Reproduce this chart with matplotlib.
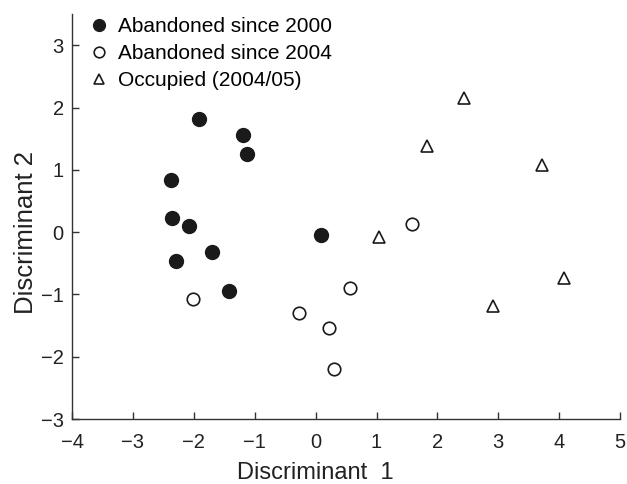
import matplotlib
matplotlib.use("Agg")
import matplotlib.pyplot as plt

plt.rcParams["font.family"] = ["Liberation Sans", "DejaVu Sans"]

# Discriminant scores
ab2000_x = [-1.91, -1.20, -1.13, -2.37, -2.36, -2.08, -2.29, -1.71, -1.42, 0.08]
ab2000_y = [1.81, 1.56, 1.26, 0.83, 0.23, 0.10, -0.47, -0.32, -0.95, -0.05]

ab2004_x = [-2.02, -0.27, 0.56, 0.22, 0.30, 1.59]
ab2004_y = [-1.07, -1.29, -0.90, -1.53, -2.19, 0.13]

occ_x = [2.43, 1.83, 3.71, 1.04, 2.91, 4.08]
occ_y = [2.16, 1.38, 1.08, -0.08, -1.18, -0.73]

xticks = list(range(-4, 6))
yticks = list(range(-3, 4))

fig = plt.figure(figsize=(6.27, 4.84), dpi=100)
ax = fig.add_axes([0.115, 0.134, 0.874, 0.837])

ax.plot(ab2000_x, ab2000_y, "o", color="#1a1a1a", markersize=10,
        label="Abandoned since 2000")
ax.plot(ab2004_x, ab2004_y, "o", mfc="white", mec="#1a1a1a", mew=1.2,
        markersize=9, label="Abandoned since 2004")
ax.plot(occ_x, occ_y, "^", mfc="white", mec="#1a1a1a", mew=1.2,
        markersize=8.5, label="Occupied (2004/05)")

ax.set_xlim(-4, 5)
ax.set_ylim(-3, 3.5)
ax.set_xticks(xticks)
ax.set_yticks(yticks)
ax.set_xticklabels([str(v).replace("-", "\u2212") for v in xticks])
ax.set_yticklabels([str(v).replace("-", "\u2212") for v in yticks])

for s in ["top", "right"]:
    ax.spines[s].set_visible(False)
for s in ["left", "bottom"]:
    ax.spines[s].set_color("#333333")
    ax.spines[s].set_linewidth(1.0)

ax.tick_params(direction="in", length=5, width=1, colors="#333333",
               labelcolor="#222222", labelsize=14.5)
ax.tick_params(axis="x", pad=10)
ax.tick_params(axis="y", pad=6)

# labels sit centred on the zero lines, as in the original
ax.set_xlabel("Discriminant  1", fontsize=17, color="#222222")
ax.set_ylabel("Discriminant 2", fontsize=18.5, color="#222222")
ax.xaxis.set_label_coords(4 / 9, -0.107)
ax.yaxis.set_label_coords(-0.062, 3 / 6.5)

ax.legend(loc="upper left", bbox_to_anchor=(0.0, 1.0225), frameon=False,
          fontsize=15, handletextpad=0.27, borderaxespad=0.2,
          labelspacing=0.37, handlelength=1.35, markerscale=0.85)

fig.savefig("out.png", dpi=100)
